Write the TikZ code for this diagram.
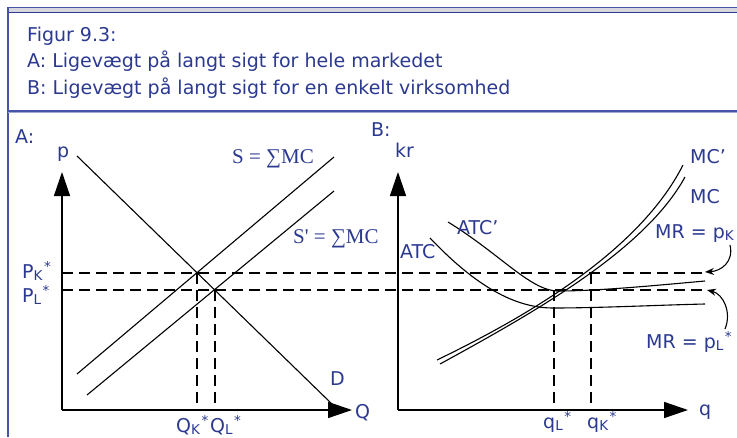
\documentclass[tikz,border=0pt]{standalone}
\usepackage{fontspec}
\setmainfont{DejaVu Sans}
\newfontfamily\serifS{Liberation Serif}
\usetikzlibrary{arrows.meta}
\definecolor{tb}{RGB}{43,57,144}
\definecolor{frameblue}{RGB}{70,84,168}
\definecolor{framelight}{RGB}{160,168,214}
\definecolor{bandgray}{RGB}{214,214,220}
\newcommand\mysub[1]{\raisebox{-2.5pt}{\fontsize{13.5}{14}\selectfont #1}}
\newcommand\mystar{\kern1.5pt\raisebox{6.5pt}{\fontsize{13.5}{14}\selectfont *}}
\begin{document}
\begin{tikzpicture}[x=1pt,y=-1pt,
  lbl/.style={text=tb,inner sep=0,anchor=base west,font=\fontsize{19}{21}\selectfont},
  serlbl/.style={text=tb,inner sep=0,anchor=base west,font=\serifS\fontsize{21}{23}\selectfont},
  axis/.style={line width=1.5pt,-{Triangle[length=24pt,width=16pt]}},
  curve/.style={line width=1.1pt},
  guide/.style={line width=2pt,dash pattern=on 11pt off 6pt},
  pointer/.style={line width=1.1pt,-{Stealth[length=9pt,width=7pt]}}]
\useasboundingbox (0,0) rectangle (737,437);
% frame
\fill[bandgray] (8,7.5) rectangle (737,12.5);
\draw[frameblue,line width=1pt] (8,7.5) -- (737,7.5);
\draw[tb,line width=1.3pt] (8,12.8) -- (737,12.8);
\draw[frameblue,line width=1.2pt] (8,7) -- (8,437);
\draw[frameblue,line width=1.2pt] (8,111) -- (737,111);
\draw[framelight,line width=1pt] (8,112.5) -- (737,112.5);
% header
\node[lbl] (t1) at (27,41) {Figur 9.3:};
\node[lbl] (t2) at (27,67) {A: Ligevægt på langt sigt for hele markedet};
\node[lbl] (t3) at (27,94) {B: Ligevægt på langt sigt for en enkelt virksomhed};
% panel A
\node[lbl] (la) at (15,143) {A:};
\coordinate (Ao) at (62,410);
\coordinate (Ay) at (62,172);
\coordinate (Ax) at (352,410);
\draw[axis] (Ao) -- (Ay);
\draw[axis] (Ao) -- (Ax);
\node[lbl] (lp) at (57,157) {p};
\node[lbl] (lQ) at (355,418) {Q};
\coordinate (D1) at (77,156);
\coordinate (D2) at (333,405);
\coordinate (S1) at (77,374);
\coordinate (S2) at (334,157);
\coordinate (T1) at (87,395);
\coordinate (T2) at (334,191);
\draw[curve] (D1) -- (D2);
\draw[curve] (S1) -- (S2);
\draw[curve] (T1) -- (T2);
\node[lbl] (lD) at (330,385) {D};
\node[serlbl] (lS) at (232,163) {S = ∑MC};
\node[serlbl] (lS2) at (293,243) {S\textquotesingle{} = ∑MC};
\node[lbl] (lPK) at (22,278) {P\mysub{K}\mystar};
\node[lbl] (lPL) at (22,302) {P\mysub{L}\mystar};
\node[lbl] (lQK) at (176,432) {Q\mysub{K}\mystar};
\node[lbl] (lQL) at (210,432) {Q\mysub{L}\mystar};
% guides
\coordinate (gK0) at (62,273);
\coordinate (gK1) at (705,273);
\coordinate (gL0) at (62,290);
\coordinate (gL1) at (705,290);
\draw[guide] (gK0) -- (gK1);
\draw[guide] (gL0) -- (gL1);
\draw[guide] (197,273) -- (197,410);
\draw[guide] (215,290) -- (215,410);
\draw[guide] (554,290) -- (554,410);
\draw[guide] (591,273) -- (591,410);
% panel B
\node[lbl] (lb) at (371,136) {B:};
\coordinate (Bo) at (398,410);
\coordinate (By) at (398,172);
\coordinate (Bx) at (688,410);
\draw[axis] (Bo) -- (By);
\draw[axis] (Bo) -- (Bx);
\node[lbl] (lkr) at (395,157) {kr};
\node[lbl] (lq) at (699,415) {q};
\draw[curve] (437,360) .. controls (530,315) and (640,250) .. (683,165);
\draw[curve] (440,364) .. controls (535,312) and (645,250) .. (685,177);
\draw[curve] (448,222) .. controls (500,254) and (530,290) .. (557,291)
   .. controls (600,291) and (660,285) .. (705,281);
\draw[curve] (430,238) .. controls (470,280) and (510,308) .. (553,308)
   .. controls (600,308) and (660,305) .. (705,304);
\node[lbl] (lATC2) at (457,234) {ATC’};
\node[lbl] (lATC) at (400,258) {ATC};
\node[lbl] (lMC2) at (690,163) {MC’};
\node[lbl] (lMC) at (690,203) {MC};
\node[lbl] (lMRK) at (655,238) {MR = p\mysub{K}};
\node[lbl] (lMRL) at (646,348) {MR = p\mysub{L}\mystar};
\node[lbl] (lqL) at (543,428) {q\mysub{L}\mystar};
\node[lbl] (lqK) at (587,428) {q\mysub{K}\mystar};
\coordinate (a1s) at (730,245);
\coordinate (a1e) at (705,272);
\coordinate (a2s) at (725,329);
\coordinate (a2e) at (707,290);
\draw[pointer] (a1s) .. controls (734,262) and (721,271) .. (a1e);
\draw[pointer] (a2s) .. controls (732,312) and (723,294) .. (a2e);
\end{tikzpicture}
\end{document}
